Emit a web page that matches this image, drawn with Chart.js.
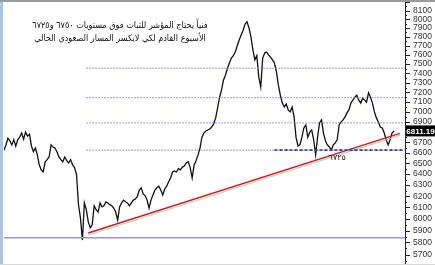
<!DOCTYPE html>
<html>
<head>
<meta charset="utf-8">
<script src="https://cdn.jsdelivr.net/npm/chart.js"></script>
<style>
  html, body { margin: 0; padding: 0; background: #fff; }
  #wrap { width: 435px; height: 265px; }
</style>
</head>
<body>
<div id="wrap"><canvas id="c"></canvas></div>
<script>
// index closes
const closes = [
  6625, 6675, 6740, 6715, 6675, 6725, 6665, 6725, 6750, 6790,
  6730, 6800, 6760, 6780, 6665, 6610, 6645, 6580, 6485, 6440,
  6420, 6515, 6535, 6560, 6675, 6655, 6645, 6610, 6560, 6535,
  6515, 6560, 6525, 6505, 6535, 6485, 6460, 6395, 6125, 6010,
  5820, 6140, 6080, 5975, 5925, 5950, 6115, 6080, 6060, 6140,
  6105, 6115, 6150, 6140, 6125, 6115, 6095, 6060, 5990, 6105,
  6140, 6165, 6150, 6140, 6115, 6140, 6165, 6175, 6195, 6255,
  6275, 6220, 6205, 6165, 6095, 6165, 6210, 6255, 6275, 6290,
  6255, 6210, 6265, 6290, 6330, 6365, 6420, 6430, 6420, 6450,
  6440, 6465, 6475, 6505, 6515, 6460, 6365, 6485, 6525, 6580,
  6645, 6750, 6790, 6810, 6820, 6830, 6850, 6880, 6940, 7040,
  7150, 7225, 7330, 7380, 7455, 7510, 7565, 7590, 7630, 7700,
  7765, 7820, 7875, 7945, 7970, 7900, 7800, 7655, 7545, 7590,
  7360, 7255, 7565, 7620, 7630, 7600, 7575, 7545, 7510, 7415,
  7275, 7170, 7090, 7050, 7080, 7020, 7000, 7050, 6950, 6750,
  6665, 6675, 6750, 6840, 6870, 6750, 6800, 6820, 6725, 6580,
  6750, 6890, 6920, 6790, 6715, 6675, 6655, 6625, 6675, 6695,
  6725, 6870, 6900, 6920, 6950, 6990, 7020, 7090, 7120, 7150,
  7170, 7120, 7090, 7140, 7120, 7100, 7195, 7150, 7090, 7000,
  6940, 6900, 6850, 6840, 6790, 6725, 6675, 6725, 6790, 6811.19
];
const days = closes.map((_, i) => i);
const lastClose = closes[closes.length - 1];

// horizontal levels
const levels = [7455, 7145, 6890, 6625];
const levelFrom = 42;
const supportLevel = 6625;
const supportFrom = 138;
const supportTo = 203.5;
const baseLevel = 5840;

// rising trend line
const trendDays = [43, 202];
const trendValues = [5880, 6787];
const trendShadowValues = [5862, 6768];

const yTicks = [5700, 5800, 5900, 6000, 6100, 6200, 6300, 6400, 6500, 6600, 6700,
  6800, 6900, 7000, 7100, 7200, 7300, 7400, 7500, 7600, 7700, 7800, 7900, 8000, 8100];
const yMin = 5631, yMax = 8201, xMax = 204.6;

const noteLines = [
  "فنياً يحتاج المؤشر للثبات فوق مستويات ٦٧٥٠ و٦٧٢٥",
  "الأسبوع القادم لكي لايكسر المسار الصعودي الحالي"
];
const supportNote = "٦٧٢٥";

const seg = (x0, x1, v) => [{ x: x0, y: v }, { x: x1, y: v }];

const datasets = [];
levels.forEach((v) => {
  datasets.push({
    data: seg(levelFrom, xMax, v),
    borderColor: "#7f78e0",
    borderWidth: 1,
    borderDash: [1.5, 1.5],
  });
});
datasets.push({
  data: seg(supportFrom, supportTo, supportLevel),
  borderColor: "#1c2a9a",
  borderWidth: 1.6,
  borderDash: [3, 2],
});
datasets.push({
  data: seg(0, xMax, baseLevel),
  borderColor: "#9d92dc",
  borderWidth: 1.6,
});
datasets.push({
  data: trendDays.map((d, i) => ({ x: d, y: trendShadowValues[i] })),
  borderColor: "rgba(200,190,150,0.7)",
  borderWidth: 1.5,
});
datasets.push({
  data: trendDays.map((d, i) => ({ x: d, y: trendValues[i] })),
  borderColor: "#cc1b2b",
  borderWidth: 1.5,
});
datasets.push({
  data: days.map((d, i) => ({ x: d, y: closes[i] })),
  borderColor: "#111",
  borderWidth: 1.3,
});

const overlay = {
  id: "overlay",
  beforeDraw(chart) {
    const ctx = chart.ctx;
    ctx.save();
    ctx.fillStyle = "#fff";
    ctx.fillRect(0, 0, chart.width, chart.height);
    ctx.restore();
  },
  afterDraw(chart) {
    const ctx = chart.ctx;
    const y = chart.scales.y;
    const x = chart.scales.x;
    const axisX = chart.chartArea.right;
    ctx.save();

    // frame
    ctx.fillStyle = "#aac6e4";
    ctx.fillRect(0, 0, 3, chart.height);
    ctx.fillStyle = "#9a9a9a";
    ctx.fillRect(0, 0, chart.width, 2);
    ctx.fillStyle = "#d8d8d8";
    ctx.fillRect(0, chart.height - 1, chart.width, 1);

    // tick marks, minor every 50
    ctx.strokeStyle = "#222";
    ctx.lineWidth = 1;
    for (let v = 5650; v <= 8200; v += 50) {
      const py = Math.round(y.getPixelForValue(v)) + 0.5;
      if (py < chart.chartArea.top || py > chart.chartArea.bottom) continue;
      const len = v % 100 === 0 ? 5 : 2;
      ctx.beginPath();
      ctx.moveTo(axisX, py);
      ctx.lineTo(axisX + len, py);
      ctx.stroke();
    }

    // last value box
    const by = y.getPixelForValue(lastClose);
    ctx.fillStyle = "#000";
    ctx.fillRect(axisX + 1, by - 5.5, 30, 11);
    ctx.fillStyle = "#fff";
    ctx.font = "bold 8px 'Liberation Sans', Arial, sans-serif";
    ctx.textAlign = "center";
    ctx.textBaseline = "middle";
    ctx.fillText(lastClose.toFixed(2), axisX + 15.5, by + 0.5);

    // notes
    ctx.fillStyle = "#111";
    ctx.direction = "rtl";
    ctx.textAlign = "center";
    ctx.font = "9px 'DejaVu Sans Condensed', 'DejaVu Sans', sans-serif";
    ctx.fillText(noteLines[0], 120, 26);
    ctx.fillText(noteLines[1], 120, 39);
    ctx.font = "8px 'DejaVu Sans', sans-serif";
    ctx.fillText(supportNote, x.getPixelForValue(170), y.getPixelForValue(supportLevel) + 8);
    ctx.restore();
  },
};

new Chart(document.getElementById("c"), {
  type: "line",
  data: { datasets },
  plugins: [overlay],
  options: {
    responsive: true,
    maintainAspectRatio: false,
    animation: false,
    layout: { padding: { left: 4, top: 2, bottom: 2, right: 0 } },
    elements: { point: { radius: 0 }, line: { tension: 0, fill: false } },
    plugins: { legend: { display: false }, tooltip: { enabled: false } },
    scales: {
      x: { type: "linear", display: false, min: 0, max: xMax },
      y: {
        type: "logarithmic",
        position: "right",
        min: yMin,
        max: yMax,
        afterBuildTicks: (scale) => {
          scale.ticks = yTicks.map((v) => ({ value: v }));
        },
        afterFit: (scale) => {
          scale.width = 30;
          scale.paddingTop = 0;
          scale.paddingBottom = 0;
        },
        grid: { display: false, drawTicks: false },
        border: { display: true, color: "#222", width: 1 },
        ticks: {
          padding: 8,
          autoSkip: false,
          maxRotation: 0,
          color: "#333",
          font: { size: 8.5, family: "'Liberation Sans', Arial, sans-serif" },
          callback: (v) => String(v),
        },
      },
    },
  },
});
</script>
</body>
</html>
